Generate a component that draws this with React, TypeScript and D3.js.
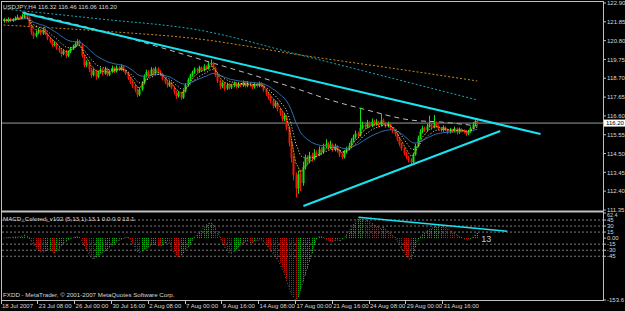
import React from 'react';
import * as d3 from 'd3';

const W = 625;
const H = 311;

// ---- price data (H4 bars, 18 Jul 2007 16:00 .. 4 Sep 2007) ----
const opens = [
  121.90,121.95,121.88,122.00,121.90,121.98,122.05,122.12,122.08,122.18,
  122.22,122.10,121.62,121.25,121.05,121.22,121.35,121.20,121.40,121.18,
  120.92,120.75,120.55,120.62,120.40,120.25,120.05,120.20,119.95,120.18,
  120.35,120.48,120.62,120.78,120.60,119.95,119.42,119.58,119.20,118.88,
  119.12,118.78,119.02,119.18,118.95,119.22,118.90,119.05,119.28,119.08,
  119.30,119.18,119.36,119.12,118.98,118.70,118.48,118.28,118.05,117.78,
  118.08,118.42,118.82,119.05,118.88,119.20,118.98,119.24,119.08,118.92,
  118.68,118.48,118.30,118.46,118.18,117.92,117.70,117.86,117.62,117.96,
  118.32,118.62,118.86,119.02,119.20,119.08,119.30,119.14,119.36,119.22,
  119.48,119.55,119.28,118.88,118.55,118.25,118.42,118.12,118.35,118.18,
  118.30,118.42,118.22,118.38,118.30,118.48,118.26,118.44,118.32,118.20,
  118.38,118.28,118.42,118.30,118.05,117.85,117.62,117.45,117.15,117.32,
  116.98,116.75,116.42,116.58,115.95,115.10,114.25,113.30,112.55,113.35,
  112.85,113.75,114.25,114.05,114.40,114.22,114.55,114.42,114.72,114.58,
  114.88,115.05,114.82,115.00,114.72,114.90,114.68,114.45,114.30,114.58,
  114.75,114.95,115.22,115.40,115.62,115.50,115.92,116.10,115.98,116.22,
  116.05,116.28,116.12,116.25,116.08,116.35,116.18,116.02,116.15,115.92,
  115.78,115.58,115.30,115.02,114.78,114.52,114.30,114.12,114.02,114.45,
  114.92,115.40,115.72,115.92,115.80,116.02,116.12,115.95,116.22,116.05,
  115.90,115.82,115.96,115.84,115.70,115.82,115.74,115.90,115.68,115.86,
  115.78,115.74,115.60,115.70,115.92,116.12,116.32,
];
const highs = [
  122.05,122.02,122.10,122.08,122.06,122.15,122.25,122.20,122.30,122.38,
  122.32,122.15,121.70,121.32,121.35,121.50,121.45,121.52,121.48,121.25,
  121.00,120.85,120.75,120.70,120.48,120.32,120.30,120.28,120.25,120.45,
  120.58,120.72,120.88,120.85,120.65,120.02,119.70,119.65,119.28,119.25,
  119.18,119.12,119.30,119.25,119.35,119.30,119.15,119.40,119.35,119.42,
  119.38,119.48,119.42,119.20,119.05,118.78,118.55,118.35,118.12,118.20,
  118.52,118.92,119.18,119.15,119.32,119.28,119.35,119.32,119.15,119.00,
  118.75,118.55,118.58,118.52,118.25,118.00,117.98,117.92,118.05,118.42,
  118.72,118.95,119.12,119.30,119.28,119.40,119.36,119.48,119.42,119.60,
  119.75,119.62,119.35,118.95,118.62,118.52,118.48,118.45,118.42,118.40,
  118.52,118.48,118.48,118.45,118.58,118.55,118.55,118.50,118.40,118.48,
  118.45,118.52,118.48,118.36,118.12,117.92,117.70,117.52,117.45,117.40,
  117.05,116.82,116.70,116.65,116.05,115.20,114.40,113.45,113.55,113.60,
  114.05,114.45,114.40,114.60,114.55,114.75,114.68,114.90,114.85,115.05,
  115.30,115.15,115.22,115.08,115.05,114.98,114.75,114.55,114.70,114.88,
  115.10,115.35,115.55,115.78,115.72,117.05,116.28,116.22,116.38,116.30,
  116.45,116.38,116.42,116.32,116.72,116.45,116.25,116.28,116.20,115.98,
  115.85,115.65,115.38,115.10,114.85,114.60,114.38,114.25,114.55,115.05,
  115.50,115.85,116.05,116.00,116.15,116.62,116.20,116.65,116.30,116.12,
  115.98,116.08,116.02,115.90,115.92,115.88,116.00,115.95,115.95,115.92,
  115.85,115.80,115.82,116.02,116.25,116.45,116.46,
];
const lows = [
  121.80,121.80,121.82,121.84,121.85,121.92,122.00,122.00,122.02,122.10,
  122.00,121.55,121.12,120.90,120.98,121.15,121.10,121.12,121.10,120.82,
  120.65,120.45,120.48,120.30,120.12,119.90,119.98,119.82,119.88,120.10,
  120.28,120.40,120.55,120.50,119.85,119.30,119.32,119.05,118.72,118.80,
  118.62,118.70,118.95,118.85,118.90,118.80,118.82,119.00,119.00,119.02,
  119.10,119.12,119.05,118.88,118.60,118.38,118.15,117.92,117.65,117.70,
  118.00,118.35,118.75,118.78,118.82,118.90,118.92,119.00,118.82,118.58,
  118.38,118.18,118.22,118.08,117.80,117.55,117.62,117.50,117.55,117.90,
  118.25,118.55,118.78,118.95,119.00,119.02,119.05,119.08,119.15,119.18,
  119.40,119.20,118.78,118.42,118.10,118.15,118.00,118.05,118.08,118.10,
  118.22,118.12,118.15,118.20,118.22,118.18,118.20,118.22,118.10,118.12,
  118.18,118.20,118.20,117.95,117.72,117.50,117.30,117.02,117.05,116.85,
  116.60,116.28,116.30,115.80,114.90,114.00,113.00,112.05,112.25,112.40,
  112.70,113.60,113.85,113.95,114.05,114.12,114.30,114.35,114.45,114.50,
  114.80,114.70,114.75,114.60,114.62,114.55,114.30,114.18,114.22,114.50,
  114.68,114.88,115.12,115.32,115.40,115.45,115.85,115.88,115.90,115.95,
  115.98,116.02,116.05,115.98,116.00,116.08,115.92,115.95,115.82,115.65,
  115.45,115.18,114.90,114.65,114.40,114.18,114.00,113.90,113.95,114.38,
  114.85,115.30,115.62,115.70,115.72,115.95,115.85,115.90,115.95,115.80,
  115.70,115.72,115.75,115.58,115.62,115.65,115.68,115.55,115.60,115.68,
  115.62,115.48,115.52,115.65,115.85,116.05,116.06,
];
const closes = [
  121.95,121.88,122.00,121.90,121.98,122.05,122.12,122.08,122.18,122.22,
  122.10,121.62,121.25,121.05,121.22,121.35,121.20,121.40,121.18,120.92,
  120.75,120.55,120.62,120.40,120.25,120.05,120.20,119.95,120.18,120.35,
  120.48,120.62,120.78,120.60,119.95,119.42,119.58,119.20,118.88,119.12,
  118.78,119.02,119.18,118.95,119.22,118.90,119.05,119.28,119.08,119.30,
  119.18,119.36,119.12,118.98,118.70,118.48,118.28,118.05,117.78,118.08,
  118.42,118.82,119.05,118.88,119.20,118.98,119.24,119.08,118.92,118.68,
  118.48,118.30,118.46,118.18,117.92,117.70,117.86,117.62,117.96,118.32,
  118.62,118.86,119.02,119.20,119.08,119.30,119.14,119.36,119.22,119.48,
  119.55,119.28,118.88,118.55,118.25,118.42,118.12,118.35,118.18,118.30,
  118.42,118.22,118.38,118.30,118.48,118.26,118.44,118.32,118.20,118.38,
  118.28,118.42,118.30,118.05,117.85,117.62,117.45,117.15,117.32,116.98,
  116.75,116.42,116.58,115.95,115.10,114.25,113.30,112.55,113.35,112.85,
  113.75,114.25,114.05,114.40,114.22,114.55,114.42,114.72,114.58,114.88,
  115.05,114.82,115.00,114.72,114.90,114.68,114.45,114.30,114.58,114.75,
  114.95,115.22,115.40,115.62,115.50,115.92,116.10,115.98,116.22,116.05,
  116.28,116.12,116.25,116.08,116.35,116.18,116.02,116.15,115.92,115.78,
  115.58,115.30,115.02,114.78,114.52,114.30,114.12,114.02,114.45,114.92,
  115.40,115.72,115.92,115.80,116.02,116.12,115.95,116.22,116.05,115.90,
  115.82,115.96,115.84,115.70,115.82,115.74,115.90,115.68,115.86,115.78,
  115.74,115.60,115.70,115.92,116.12,116.32,116.20,
];

// ---- MACD_Colored (5,13,1) histogram values ----
const macdValues = [
  0,1,2,1,2,3,3,4,5,7,
  6,2,-8,-16,-24,-30,-34,-35,-33,-30,
  -27,-33,-38,-32,-26,-20,-14,-9,-5,-1,
  1,3,4,2,-6,-16,-28,-38,-47,-52,
  -48,-44,-40,-36,-32,-28,-24,-20,-15,-10,
  -6,-3,-1,1,2,-4,-12,-22,-32,-36,
  -33,-30,-26,-22,-19,-16,-15,-18,-20,-17,
  -13,-10,-14,-24,-34,-42,-47,-45,-38,-30,
  -22,-14,-6,2,8,14,20,26,32,36,
  37,34,26,15,4,-8,-20,-30,-36,-38,
  -34,-28,-22,-16,-12,-9,-7,-10,-12,-9,
  -6,-5,-4,-8,-14,-22,-30,-38,-44,-52,
  -62,-74,-86,-104,-122,-138,-146,-153.6,-148,-130,
  -110,-92,-76,-58,-38,-17,-4,3,5,2,
  -3,-6,-8,-9,-6,-4,-7,-5,0,8,
  16,24,32,40,47,51,52,49,45,41,
  37,33,30,28,24,27,22,18,12,7,
  2,-6,-16,-26,-35,-43,-50,-54,-40,-22,
  -6,3,8,13,17,21,24,27,29,31,
  32,30,27,24,20,16,12,8,5,2,
  -1,-3,-5,-2,3,8,13.1,
];

// ---- long moving averages (bar index, price) ----
const maGrayDashed: [number, number][] = [[8, 122.40], [46, 121.23], [85, 119.78], [129, 118.05], [142, 117.49], [158, 116.93], [177, 116.37], [190, 116.26], [206, 116.04]];
const maOrangeDotted: [number, number][] = [[0, 121.67], [42, 121.34], [85, 120.89], [129, 120.0], [177, 119.11], [206, 118.55]];
const maCyanDotted: [number, number][] = [[0, 122.57], [42, 122.01], [85, 121.39], [129, 120.0], [177, 118.44], [206, 117.49]];

// ---- trend lines ----
const trendUpper: [number, number][] = [[8.5, 122.34], [233.5, 115.59]];
const trendLower: [number, number][] = [[130.4, 111.57], [216, 115.76]];
const trendMacd: [number, number][] = [[154.3, 52], [219, 17.3]];

// ---- axis labels ----
const priceTicks = [122.90, 121.85, 120.80, 119.75, 118.70, 117.65, 116.60, 115.55, 114.50, 113.45, 112.40, 111.35];
const lastPrice = 116.20;
const macdLevels = [45, 30, 15, -15, -30, -45];
const macdTickValues = [62.4, 45, 30, 15, 0, -15, -30, -45, -153.6];
const macdTickLabels = ['62.4', '45', '30', '15', '0.00', '-15', '-30', '-45', '-153.6'];
const dateTickIndex = [0, 16, 32, 48, 64, 80, 96, 112, 128, 144, 160, 176, 192];
const dateTickLabels = ['18 Jul 2007', '23 Jul 08:00', '26 Jul 00:00', '30 Jul 16:00', '2 Aug 08:00', '7 Aug 00:00', '9 Aug 16:00', '14 Aug 08:00', '17 Aug 00:00', '21 Aug 16:00', '24 Aug 08:00', '29 Aug 00:00', '31 Aug 16:00'];

function ema(values: number[], period: number) {
  const k = 2 / (period + 1);
  const out: number[] = [];
  let prev = values[0];
  for (let i = 0; i < values.length; i++) {
    prev = i === 0 ? values[0] : values[i] * k + prev * (1 - k);
    out.push(prev);
  }
  return out;
}

const FONT = 'Liberation Sans, Arial, sans-serif';
const TXT = '#d8d8d8';
const FRAME = '#c0c0c0';
const GREEN = '#10e010';
const RED = '#f01808';
const CYAN = '#19e3f0';

export default function App() {
  const x = d3.scaleLinear().domain([0, 206]).range([3.5, 477.3]);
  const y = d3.scaleLinear().domain([111.35, 122.90]).range([210, 3]);
  const ym = d3.scaleLinear().domain([-153.6, 62.4]).range([300, 213]);

  const lineP = d3.line<[number, number]>().x(d => x(d[0])).y(d => y(d[1]));
  const lineCurve = d3.line<[number, number]>().x(d => x(d[0])).y(d => y(d[1])).curve(d3.curveMonotoneX);
  const lineM = d3.line<[number, number]>().x(d => x(d[0])).y(d => ym(d[1]));

  const emaFast = ema(closes, 5).map((v, i) => [i, v] as [number, number]);
  const emaMid = ema(closes, 10).map((v, i) => [i, v] as [number, number]);
  const emaSlow = ema(closes, 21).map((v, i) => [i, v] as [number, number]);
  const macdLine = macdValues.map((v, i) => [i, v] as [number, number]);

  return (
    <svg width={W} height={H} style={{ position: 'fixed', left: 0, top: 0, display: 'block' }} fontFamily={FONT}>
      <defs>
        <clipPath id="mainClip"><rect x={2} y={2} width={601} height={209} /></clipPath>
        <clipPath id="macdClip"><rect x={2} y={213} width={601} height={87} /></clipPath>
      </defs>
      <rect x={0} y={0} width={W} height={H} fill="#000" />

      {/* main window */}
      <g clipPath="url(#mainClip)">
        <path d={lineCurve(maCyanDotted) || ''} fill="none" stroke="#1aa8b8" strokeWidth={1} strokeDasharray="2,2" />
        <path d={lineCurve(maOrangeDotted) || ''} fill="none" stroke="#c88a1c" strokeWidth={1} strokeDasharray="2,2" />
        <path d={lineCurve(maGrayDashed) || ''} fill="none" stroke="#bdbdbd" strokeWidth={1} strokeDasharray="5,4" />
        <line x1={2} x2={603} y1={y(lastPrice)} y2={y(lastPrice)} stroke="#9a9a9a" strokeWidth={1} />
        {closes.map((c, i) => {
          const o = opens[i];
          const hi = Math.max(highs[i], o, c);
          const lo = Math.min(lows[i], o, c);
          const col = c >= o ? GREEN : RED;
          const cx = Math.round(x(i));
          const top = y(Math.max(o, c));
          const bh = Math.max(1, y(Math.min(o, c)) - top);
          return (
            <g key={i}>
              <line x1={cx + 0.5} x2={cx + 0.5} y1={y(hi)} y2={y(lo)} stroke={col} strokeWidth={1} />
              <rect x={cx - 0.5} y={top} width={2} height={bh} fill={col} />
            </g>
          );
        })}
        <path d={lineP(emaSlow) || ''} fill="none" stroke="#2f6cae" strokeWidth={1} />
        <path d={lineP(emaMid) || ''} fill="none" stroke="#e8e8e8" strokeWidth={1} strokeDasharray="1,2" />
        <path d={lineP(emaFast) || ''} fill="none" stroke="#c8a818" strokeWidth={1} strokeDasharray="2,1" />
        <path d={lineP(trendUpper) || ''} fill="none" stroke={CYAN} strokeWidth={2} />
        <path d={lineP(trendLower) || ''} fill="none" stroke={CYAN} strokeWidth={2} />
      </g>
      <text x={3} y={8.5} fontSize={6.2} fill={TXT}>USDJPY,H4  116.32 116.46 116.06 116.20</text>

      {/* MACD window */}
      <g clipPath="url(#macdClip)">
        {macdLevels.map(l => (
          <line key={l} x1={2} x2={603} y1={ym(l)} y2={ym(l)} stroke="#7a7a7a" strokeWidth={1} strokeDasharray="2,2" />
        ))}
        {macdValues.map((v, i) => {
          const up = i === 0 ? v >= 0 : v > macdValues[i - 1];
          const cx = Math.round(x(i)) + 0.5;
          return <line key={i} x1={cx} x2={cx} y1={ym(0)} y2={ym(v)} stroke={up ? '#00c800' : '#e01000'} strokeWidth={1} strokeDasharray="1,1" />;
        })}
        <path d={lineM(macdLine) || ''} fill="none" stroke="#b0b0b0" strokeWidth={0.8} strokeDasharray="1,2" opacity={0.7} />
        <path d={lineM(trendMacd) || ''} fill="none" stroke={CYAN} strokeWidth={1.5} />
        <text x={x(206) + 4} y={ym(0) + 3.5} fontSize={9} fill="#c8c8c8">13</text>
      </g>
      <text x={3} y={220.5} fontSize={6.2} fill={TXT}>MACD_Colored_v102 (5,13,1) 13.1 0.0 0.0 13.1</text>
      <text x={3} y={297} fontSize={6.2} fill={TXT}>FXDD - MetaTrader, © 2001-2007 MetaQuotes Software Corp.</text>

      {/* frame */}
      <line x1={1.5} x2={1.5} y1={1} y2={301} stroke={FRAME} strokeWidth={1} />
      <line x1={1} x2={604} y1={1.5} y2={1.5} stroke={FRAME} strokeWidth={1} />
      <line x1={1} x2={604} y1={211.5} y2={211.5} stroke={FRAME} strokeWidth={2} />
      <line x1={1} x2={604} y1={300.5} y2={300.5} stroke={FRAME} strokeWidth={1} />
      <line x1={603.5} x2={603.5} y1={1} y2={301} stroke={FRAME} strokeWidth={1} />

      {/* price axis */}
      {priceTicks.map(p => (
        <g key={p}>
          <line x1={603} x2={606} y1={y(p)} y2={y(p)} stroke={FRAME} strokeWidth={1} />
          <text x={607} y={y(p) + 2.2} fontSize={6} fill={TXT}>{p.toFixed(2)}</text>
        </g>
      ))}
      <rect x={604} y={y(lastPrice) - 3.5} width={21} height={7} fill="#fff" />
      <text x={606} y={y(lastPrice) + 2.2} fontSize={6} fill="#000">{lastPrice.toFixed(2)}</text>

      {/* macd axis */}
      {macdTickValues.map((v, k) => (
        <g key={k}>
          <line x1={603} x2={606} y1={ym(v)} y2={ym(v)} stroke={FRAME} strokeWidth={1} />
          <text x={607} y={k === 0 ? ym(v) + 4.2 : ym(v) + 2.2} fontSize={k === 0 ? 5.4 : 6} fill={TXT}>{macdTickLabels[k]}</text>
        </g>
      ))}

      {/* time axis */}
      {dateTickIndex.map((idx, k) => (
        <g key={idx}>
          <line x1={Math.round(x(idx)) - 2.5} x2={Math.round(x(idx)) - 2.5} y1={301} y2={304} stroke={FRAME} strokeWidth={1} />
          <text x={x(idx) - 1.5} y={308} fontSize={6} fill={TXT}>{dateTickLabels[k]}</text>
        </g>
      ))}
    </svg>
  );
}
